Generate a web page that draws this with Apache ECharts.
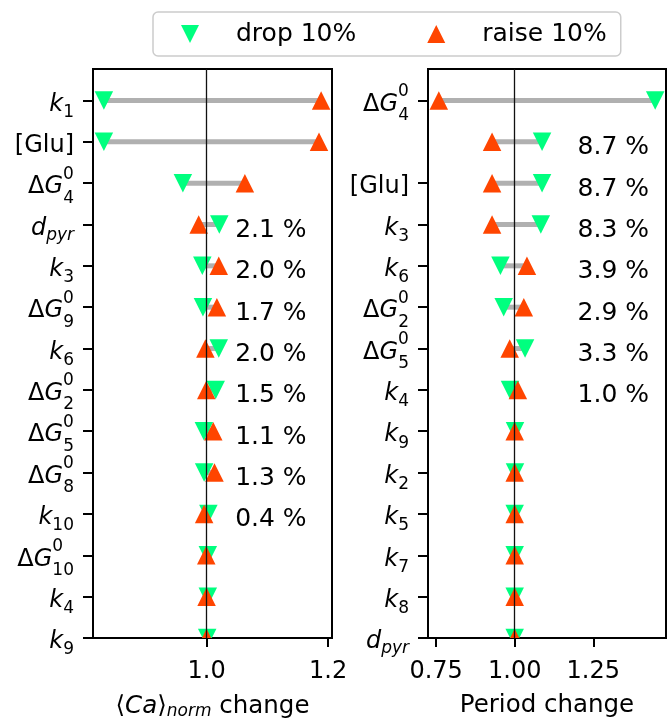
<!DOCTYPE html>
<html>
<head>
<meta charset="utf-8">
<script src="https://cdn.jsdelivr.net/npm/echarts@6/dist/echarts.min.js"></script>
<style>
  html, body { margin: 0; padding: 0; background: #ffffff; }
  #chart { width: 669px; height: 718px; }
</style>
</head>
<body>
<div id="chart"></div>
<script>
// Sensitivity of <Ca>_norm and period to a ±10 % change of each parameter.
// Rows are listed from the top of each panel downwards.
// Label markup: base_sub^sup
const caParams = ['k_1', '[Glu]', 'ΔG_4^0', 'd_pyr', 'k_3', 'ΔG_9^0', 'k_6', 'ΔG_2^0', 'ΔG_5^0', 'ΔG_8^0', 'k_10', 'ΔG_10^0', 'k_4', 'k_9'];
const caDrop   = [0.831, 0.831, 0.961, 1.021, 0.993, 0.994, 1.020, 1.015, 0.9956, 0.996, 1.003, 1.002, 1.002, 1.001];
const caRaise  = [1.1885, 1.185, 1.063, 0.987, 1.020, 1.017, 0.998, 0.9995, 1.011, 1.013, 0.996, 0.9995, 1.000, 1.000];
const caPercent = ['', '', '', '2.1 %', '2.0 %', '1.7 %', '2.0 %', '1.5 %', '1.1 %', '1.3 %', '0.4 %', '', '', ''];

const periodParams = ['ΔG_4^0', 'k_1', '[Glu]', 'k_3', 'k_6', 'ΔG_2^0', 'ΔG_5^0', 'k_4', 'k_9', 'k_2', 'k_5', 'k_7', 'k_8', 'd_pyr'];
const periodDrop   = [1.447, 1.087, 1.087, 1.083, 0.9545, 0.965, 1.033, 0.985, 1.001, 1.001, 1.000, 1.000, 1.000, 1.000];
const periodRaise  = [0.7585, 0.928, 0.928, 0.928, 1.039, 1.029, 0.984, 1.010, 1.000, 1.000, 1.000, 1.000, 1.000, 1.000];
const periodPercent = ['', '8.7 %', '8.7 %', '8.3 %', '3.9 %', '2.9 %', '3.3 %', '1.0 %', '', '', '', '', '', ''];

const caTicks = [1.0, 1.2];
const periodTicks = [0.75, 1.00, 1.25];

const seriesNames = ['drop 10%', 'raise 10%'];
const axisTitles = ['{n|⟨}{it|Ca}{n|⟩}{subit|norm}{n| change}', 'Period change'];

const FONT = 'DejaVu Sans';
const DROP_COLOR = '#00ff7f';
const RAISE_COLOR = '#ff4500';
const SEGMENT_COLOR = '#b0b0b0';
const MARKER = 18.5;
const ROWS = caParams.length;
const Y_MAX = ROWS - 1 + 0.76;

// Turn 'ΔG_4^0' style markup into rich text tokens.
function richLabel(p) {
  const m = p.match(/^(Δ?)([A-Za-z])(?:_([^\^]+))?(?:\^(.+))?$/);
  if (!m) return '{rm|' + p + '}';
  const delta = m[1], base = m[2], sub = m[3], sup = m[4];
  let s = (delta ? '{rm|Δ}' : '') + '{it|' + base + '}';
  if (sup) {
    s += '{sup|' + sup + '}' + '{subL|' + sub + '}';
  } else if (sub) {
    s += (/^\d+$/.test(sub) ? '{sub|' : '{subit|') + sub + '}';
  }
  return s;
}

// Every token is centred in a fixed 44px line; top padding lowers a token,
// bottom padding raises it.
const LINE_H = 44;
function tok(size, italic, padding, extra) {
  return Object.assign({
    fontFamily: FONT, fontSize: size, fontStyle: italic ? 'italic' : 'normal',
    lineHeight: LINE_H, verticalAlign: 'middle', align: 'left', color: '#000',
    padding: padding
  }, extra || {});
}
const labelRich = {
  rm:    tok(24, false, [8, 0, 0, 0]),
  it:    tok(24, true,  [8, 0, 0, 0]),
  sub:   tok(17, false, [24, 0, 0, 0]),
  subit: tok(17, true,  [22, 0, 0, 0]),
  subL:  tok(17, false, [30, 0, 0, 0]),
  sup:   tok(17, false, [0, 0, 18, 0], { width: 0.1 })
};

function limits(a, b) {
  const all = a.concat(b);
  const lo = Math.min.apply(null, all), hi = Math.max.apply(null, all);
  const pad = 0.05 * (hi - lo);
  return [lo - pad, hi + pad];
}

function rowY(i) { return ROWS - 1 - i; }

function triangleRenderer(down, color) {
  return function (params, api) {
    const c = api.coord([api.value(0), api.value(1)]);
    const s = MARKER / 2;
    const pts = down
      ? [[c[0] - s, c[1] - s], [c[0] + s, c[1] - s], [c[0], c[1] + s]]
      : [[c[0], c[1] - s], [c[0] - s, c[1] + s], [c[0] + s, c[1] + s]];
    return { type: 'polygon', shape: { points: pts }, style: { fill: color } };
  };
}

function segmentRenderer(params, api) {
  const a = api.coord([api.value(0), api.value(2)]);
  const b = api.coord([api.value(1), api.value(2)]);
  return {
    type: 'line',
    shape: { x1: a[0], y1: a[1], x2: b[0], y2: b[1] },
    style: { stroke: SEGMENT_COLOR, lineWidth: 5 }
  };
}

function percentRenderer(xPos, texts) {
  return function (params, api) {
    const c = api.coord([xPos, api.value(0)]);
    return {
      type: 'text',
      x: c[0], y: c[1] + 6,
      style: {
        text: texts[params.dataIndex],
        font: '25px "' + FONT + '"',
        fill: '#000',
        align: 'left',
        verticalAlign: 'middle'
      }
    };
  };
}

function panelSeries(idx, drop, raise, percent, labelX) {
  const segData = drop.map((d, i) => [d, raise[i], rowY(i)]);
  const dropData = drop.map((d, i) => [d, rowY(i)]);
  const raiseData = raise.map((r, i) => [r, rowY(i)]);
  const pctRows = [], pctTexts = [];
  percent.forEach((p, i) => { if (p) { pctRows.push([rowY(i)]); pctTexts.push(p); } });
  return [
    {
      type: 'custom', xAxisIndex: idx, yAxisIndex: idx, clip: true, silent: true, z: 2,
      renderItem: segmentRenderer, encode: { x: [0, 1], y: 2 }, data: segData
    },
    {
      name: seriesNames[0], type: 'custom', xAxisIndex: idx, yAxisIndex: idx, clip: true, z: 3,
      itemStyle: { color: DROP_COLOR },
      renderItem: triangleRenderer(true, DROP_COLOR), encode: { x: 0, y: 1 }, data: dropData
    },
    {
      name: seriesNames[1], type: 'custom', xAxisIndex: idx, yAxisIndex: idx, clip: true, z: 4,
      itemStyle: { color: RAISE_COLOR },
      renderItem: triangleRenderer(false, RAISE_COLOR), encode: { x: 0, y: 1 }, data: raiseData,
      markLine: {
        silent: true, symbol: 'none', z: 10, animation: false,
        label: { show: false },
        lineStyle: { color: '#111', width: 1.3, type: 'solid' },
        data: [{ xAxis: 1 }]
      }
    },
    {
      type: 'custom', xAxisIndex: idx, yAxisIndex: idx, silent: true, z: 5,
      renderItem: percentRenderer(labelX, pctTexts), encode: { y: 0 }, data: pctRows
    }
  ];
}

function xAxis(idx, lim, ticks, digits, title) {
  return {
    type: 'value', gridIndex: idx, min: lim[0], max: lim[1],
    splitLine: { show: false },
    axisLine: { show: false },
    axisTick: { show: true, customValues: ticks, length: 9, lineStyle: { color: '#000', width: 2 } },
    axisLabel: {
      customValues: ticks, margin: 22,
      showMinLabel: true, showMaxLabel: true,
      formatter: v => v.toFixed(digits),
      fontFamily: FONT, fontSize: 24, color: '#000'
    },
    name: title, nameLocation: 'middle', nameGap: 55,
    nameTextStyle: {
      fontFamily: FONT, fontSize: 24.5, color: '#000',
      rich: {
        n: { fontFamily: FONT, fontSize: 24.5, color: '#000' },
        it: { fontFamily: FONT, fontSize: 24.5, fontStyle: 'italic', color: '#000' },
        subit: { fontFamily: FONT, fontSize: 17, fontStyle: 'italic', color: '#000', padding: [10, 0, 0, 0] }
      }
    }
  };
}

function yAxis(idx, params) {
  const ticks = params.map((p, i) => rowY(i));
  return {
    type: 'value', gridIndex: idx, min: 0, max: Y_MAX,
    splitLine: { show: false },
    axisLine: { show: false },
    axisTick: { show: true, customValues: ticks, length: 10, lineStyle: { color: '#000', width: 2 } },
    axisLabel: {
      customValues: ticks, margin: 19,
      showMinLabel: true, showMaxLabel: true, hideOverlap: false,
      formatter: v => richLabel(params[ROWS - 1 - Math.round(v)]),
      rich: labelRich
    }
  };
}

const caLim = limits(caDrop, caRaise);
const periodLim = limits(periodDrop, periodRaise);

// Legend icons: an 18px triangle sitting inside a wider, invisible bounding box.
const DROP_ICON = 'path://M0,0M69,18M19,0L37,0L28,18Z';
const RAISE_ICON = 'path://M0,0M69,18M28,0L37,18L19,18Z';

const gridBase = {
  top: 69, height: 569, show: true, borderColor: '#000', borderWidth: 2,
  backgroundColor: 'transparent', outerBoundsMode: 'none', containLabel: false
};

const chart = echarts.init(document.getElementById('chart'), null, { renderer: 'canvas' });
chart.setOption({
  animation: false,
  backgroundColor: '#ffffff',
  legend: {
    data: [
      { name: seriesNames[0], icon: DROP_ICON },
      { name: seriesNames[1], icon: RAISE_ICON }
    ],
    left: 153, top: 12,
    itemWidth: 69, itemHeight: 18, itemGap: 52,
    padding: [9, 14, 9, 9],
    borderColor: '#cccccc', borderWidth: 1.5, borderRadius: 5,
    textStyle: { fontFamily: FONT, fontSize: 25, color: '#000', lineHeight: 26 },
    selectedMode: false
  },
  grid: [
    Object.assign({ left: 93, width: 239 }, gridBase),
    Object.assign({ left: 428, width: 238 }, gridBase)
  ],
  xAxis: [
    xAxis(0, caLim, caTicks, 1, axisTitles[0]),
    xAxis(1, periodLim, periodTicks, 2, axisTitles[1])
  ],
  yAxis: [yAxis(0, caParams), yAxis(1, periodParams)],
  series: []
    .concat(panelSeries(0, caDrop, caRaise, caPercent, 1.047))
    .concat(panelSeries(1, periodDrop, periodRaise, periodPercent, 1.2))
});
</script>
</body>
</html>
